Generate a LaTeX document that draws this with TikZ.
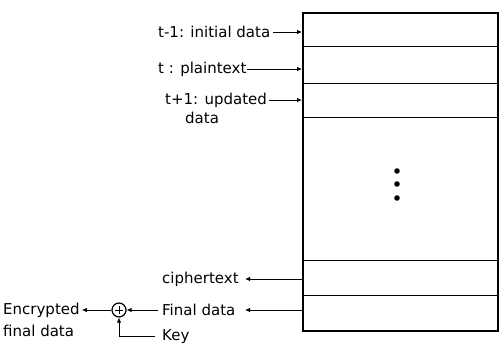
\documentclass[tikz,border=0pt]{standalone}
\usepackage{fontspec}
\setmainfont{DejaVu Sans}
\usetikzlibrary{arrows.meta}
\tikzset{
  lbl/.style={inner sep=0pt, anchor=west, font=\fontsize{15}{16}\selectfont},
  conn/.style={line width=0.8pt, -{Latex[length=5pt,width=4.5pt]}},
  rowline/.style={line width=1pt},
}
\begin{document}
\begin{tikzpicture}[x=1pt,y=-1pt]
\useasboundingbox (0,0) rectangle (499,345);

% memory block
\node[draw, line width=2pt, inner sep=0pt, minimum width=195pt,
      minimum height=318pt, anchor=north west] (mem) at (302,12) {};
\foreach \yy in {47,84,118,260,295}
  \draw[rowline] (302,\yy) -- (497,\yy);
\foreach \yy in {171,184,198}
  \fill (397,\yy) circle (2.8pt);

% inputs
\node[lbl] (tm1) at (158,32) {t-1: initial data};
\node[lbl] (t0) at (158,69) {t : plaintext};
\node[lbl] (tp1) at (165,100) {t+1: updated};
\node[lbl] (tp1b) at (185,118) {data};
\draw[conn] ([xshift=3pt]tm1.east) -- (tm1.east -| mem.west);
\draw[conn] (t0.east) -- (t0.east -| mem.west);
\draw[conn] ([xshift=2pt]tp1.east) -- (tp1.east -| mem.west);

% outputs
\node[lbl] (ct) at (162,279) {ciphertext};
\node[lbl] (fd) at (162,310) {Final data};
\coordinate (ctend) at (245,279);
\coordinate (fdend) at (245,310);
\draw[conn] (ctend -| mem.west) -- (ctend);
\draw[conn] (fdend -| mem.west) -- (fdend);

% XOR with key
\node[draw, circle, line width=1.2pt, minimum size=14pt, inner sep=0pt] (xor) at (119,310) {};
\draw[line width=0.8pt] ([xshift=-3.6pt]xor.center) -- ([xshift=3.6pt]xor.center)
                        ([yshift=-3.6pt]xor.center) -- ([yshift=3.6pt]xor.center);
\draw[conn] ([xshift=-4pt]fd.west) -- (xor.east);
\node[lbl] (enc) at (3,310) {Encrypted};
\node[lbl] (enc2) at (3,331) {final data};
\draw[conn] (xor.west) -- ([xshift=2pt]enc.east);
\node[lbl] (key) at (162,337) {Key};
\coordinate (kc) at (119,336);
\draw[conn] ([xshift=-7pt]key.west |- kc) -- (kc) -- (xor.south);
\end{tikzpicture}
\end{document}
